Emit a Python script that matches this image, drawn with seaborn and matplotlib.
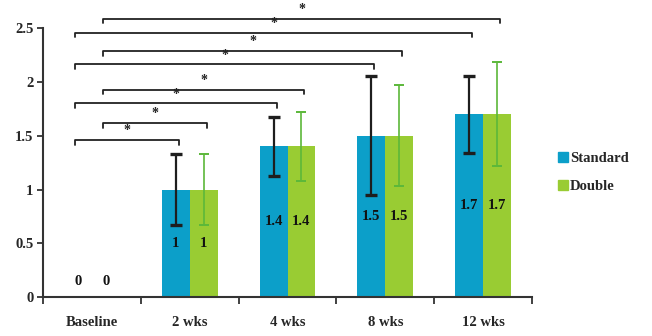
import numpy as np
import pandas as pd
import matplotlib
matplotlib.use("Agg")
import matplotlib.pyplot as plt
from matplotlib.lines import Line2D
import seaborn as sns

# Data
timepoints = ["Baseline", "2 wks", "4 wks", "8 wks", "12 wks"]
standard_mean = [0, 1, 1.4, 1.5, 1.7]
double_mean = [0, 1, 1.4, 1.5, 1.7]
standard_err = [0, 0.33, 0.27, 0.555, 0.36]
double_err = [0, 0.33, 0.32, 0.47, 0.485]
groups = ["Standard", "Double"]

# Significance brackets: (group of left end, timepoint index of right end, group of right end, bracket height)
brackets = [
    ("Standard", 1, "Standard", 1.46),
    ("Double", 1, "Double", 1.62),
    ("Standard", 2, "Standard", 1.80),
    ("Double", 2, "Double", 1.93),
    ("Standard", 3, "Standard", 2.165),
    ("Double", 3, "Double", 2.29),
    ("Standard", 4, "Standard", 2.46),
    ("Double", 4, "Double", 2.59),
]

sns.set_theme(style="white")
plt.rcParams["font.family"] = ["Liberation Serif", "DejaVu Serif"]
plt.rcParams["font.weight"] = "bold"

colors = {"Standard": "#0c9fc9", "Double": "#99cc33"}
err_colors = {"Standard": "#1e1e1e", "Double": "#5cb83a"}

df = pd.DataFrame({
    "time": timepoints * 2,
    "group": ["Standard"] * len(timepoints) + ["Double"] * len(timepoints),
    "value": standard_mean + double_mean,
})

fig = plt.figure(figsize=(6.52, 3.36), dpi=100)
ax = fig.add_axes([0.066, 0.116, 0.750, 0.800])

sns.barplot(data=df, x="time", y="value", hue="group", order=timepoints,
            hue_order=groups, palette=colors, width=0.57, gap=0,
            saturation=1, errorbar=None, legend=False, linewidth=0,
            edgecolor="none", ax=ax)

half = 0.57 / 4
offsets = {"Standard": -half, "Double": half}
xs = np.arange(len(timepoints))

# Error bars and value labels
for g, means, errs in [("Standard", standard_mean, standard_err),
                       ("Double", double_mean, double_err)]:
    x = xs + offsets[g]
    m = np.array(means[1:])
    e = np.array(errs[1:])
    lw = 1.6 if g == "Standard" else 1.2
    cap = 4 if g == "Standard" else 3.5
    ax.errorbar(x[1:], m, yerr=e, fmt="none", ecolor=err_colors[g],
                elinewidth=lw, capsize=cap, capthick=lw + (0.8 if g == "Standard" else 0.2),
                zorder=5)
    for xi, v in zip(x, means):
        ypos = v / 2 if v > 0 else 0.14
        ax.text(xi, ypos, f"{v:g}", ha="center", va="center",
                fontsize=10.5, fontweight="bold", color="#111111", zorder=6)

# Significance brackets
leg = 0.045
for g0, ti, g1, h in brackets:
    x0 = 0 + offsets[g0] - 0.03
    x1 = ti + offsets[g1] + 0.03
    ax.plot([x0, x0, x1, x1], [h - leg, h, h, h - leg], color="#222222",
            lw=1.3, clip_on=False, zorder=4)
    ax.text((x0 + x1) / 2, h + 0.085, "*", ha="center", va="center",
            fontsize=10, fontweight="bold", color="#222222", clip_on=False)

ax.set_xlim(-0.5, 4.5)
ax.set_ylim(0, 2.5)
ax.set_yticks([0, 0.5, 1, 1.5, 2, 2.5])
ax.set_yticklabels(["0", "0.5", "1", "1.5", "2", "2.5"])
ax.set_xticks(xs)
ax.set_xticklabels(timepoints)
ax.set_xticks(np.arange(-0.5, 5, 1), minor=True)
ax.tick_params(axis="x", which="major", length=0, pad=14, labelsize=10.5)
ax.tick_params(axis="x", which="minor", length=5, width=1.3, color="#333333",
               direction="out", bottom=True)
ax.tick_params(axis="y", which="major", length=4, width=1.3, color="#333333",
               direction="out", left=True, pad=3, labelsize=10.5)
for lbl in ax.get_xticklabels() + ax.get_yticklabels():
    lbl.set_fontweight("bold")
ax.set_xlabel("")
ax.set_ylabel("")

sns.despine(ax=ax)
for s in ["left", "bottom"]:
    ax.spines[s].set_color("#333333")
    ax.spines[s].set_linewidth(1.5)

handles = [Line2D([], [], marker="s", linestyle="none", markersize=6.5,
                  markerfacecolor=colors[g], markeredgecolor=colors[g]) for g in groups]
lg = fig.legend(handles, groups, loc="center left", bbox_to_anchor=(0.836, 0.486),
                frameon=False, handlelength=0.7, handletextpad=0.1, labelspacing=1.0,
                fontsize=10.5)
for t in lg.get_texts():
    t.set_fontfamily(["Liberation Serif", "DejaVu Serif"])
    t.set_fontweight("bold")
    t.set_fontsize(10.5)

fig.savefig("out.png", dpi=100)
